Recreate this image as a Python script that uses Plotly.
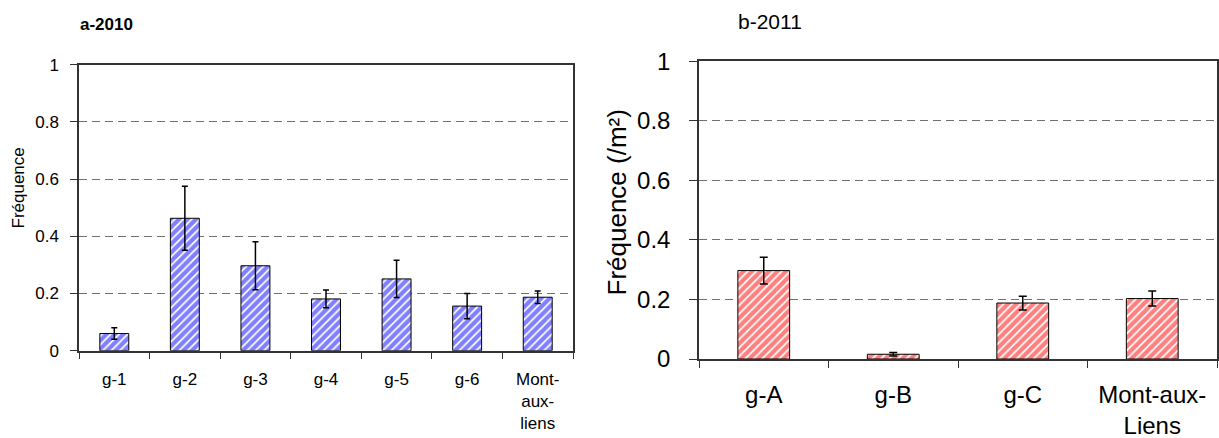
import plotly.graph_objects as go

# ---- data ----
cats_2010 = ["g-1", "g-2", "g-3", "g-4", "g-5", "g-6", "Mont-<br>aux-<br>liens"]
freq_2010 = [0.06, 0.463, 0.297, 0.181, 0.251, 0.156, 0.187]
err_2010 = [0.02, 0.112, 0.084, 0.031, 0.065, 0.044, 0.022]

cats_2011 = ["g-A", "g-B", "g-C", "Mont-aux-<br>Liens"]
freq_2011 = [0.297, 0.016, 0.188, 0.203]
err_2011 = [0.045, 0.006, 0.023, 0.025]

y_ticks = [0, 0.2, 0.4, 0.6, 0.8, 1]
y_ticktext = ["0", "0.2", "0.4", "0.6", "0.8", "1"]

W, H = 1219, 438
FONT = "Liberation Sans, Arial, sans-serif"

fig = go.Figure()

fig.add_trace(go.Bar(
    x=cats_2010, y=freq_2010, width=0.41,
    marker=dict(color="white",
                line=dict(color="black", width=1),
                pattern=dict(shape="/", fgcolor="#0000ff", bgcolor="white",
                             size=6, solidity=0.7)),
    error_y=dict(type="data", array=err_2010, color="black", thickness=1.5, width=3),
    xaxis="x", yaxis="y", showlegend=False,
))
fig.add_trace(go.Bar(
    x=cats_2011, y=freq_2011, width=0.40,
    marker=dict(color="white",
                line=dict(color="black", width=1),
                pattern=dict(shape="/", fgcolor="#ff0000", bgcolor="white",
                             size=6, solidity=0.7)),
    error_y=dict(type="data", array=err_2011, color="black", thickness=1.5, width=4),
    xaxis="x2", yaxis="y2", showlegend=False,
))

def xa(domain, anchor, size, standoff):
    return dict(domain=domain, anchor=anchor,
                showline=True, linecolor="#333", linewidth=1.5, mirror=True,
                ticks="outside", tickson="boundaries", ticklen=7, tickcolor="#333",
                tickwidth=1.2, showgrid=False, tickfont=dict(size=size, color="black", family=FONT),
                ticklabelstandoff=standoff, automargin=False, fixedrange=True)

def ya(domain, anchor, size, standoff, ticklen):
    return dict(domain=domain, anchor=anchor, range=[0, 1], tickvals=y_ticks, ticktext=y_ticktext,
                showline=True, linecolor="#333", linewidth=1.5, mirror=True,
                ticks="outside", ticklen=ticklen, tickcolor="#333", tickwidth=1.2,
                showgrid=True, gridcolor="#707070", gridwidth=1, griddash="8px,5px",
                zeroline=False, tickfont=dict(size=size, color="black", family=FONT),
                ticklabelstandoff=standoff, automargin=False, fixedrange=True)

fig.update_layout(
    width=W, height=H,
    margin=dict(l=0, r=0, t=0, b=0),
    paper_bgcolor="white", plot_bgcolor="white",
    font=dict(family=FONT, color="black"),
    xaxis=xa([79 / W, 573 / W], "y", 17, 12),
    yaxis=ya([1 - 350.7 / H, 1 - 64.7 / H], "x", 17, 8, 7),
    xaxis2=xa([699 / W, 1217 / W], "y2", 24, 13),
    yaxis2=ya([1 - 359 / H, 1 - 61.3 / H], "x2", 24, 14, 8),
    annotations=[
        dict(text="<b>a-2010</b>", x=77.6 / W, y=1 - 25 / H, xref="paper", yref="paper",
             xanchor="left", yanchor="middle", showarrow=False,
             font=dict(size=17, family=FONT, color="black")),
        dict(text="b-2011", x=736 / W, y=1 - 21.7 / H, xref="paper", yref="paper",
             xanchor="left", yanchor="middle", showarrow=False,
             font=dict(size=21, family=FONT, color="black")),
        dict(text="Fréquence", x=17.5 / W, y=1 - 188 / H, xref="paper", yref="paper",
             xanchor="center", yanchor="middle", textangle=-90, showarrow=False,
             font=dict(size=17, family=FONT, color="black")),
        dict(text="Fréquence (/m²)", x=617 / W, y=1 - 202.5 / H, xref="paper", yref="paper",
             xanchor="center", yanchor="middle", textangle=-90, showarrow=False,
             font=dict(size=26, family=FONT, color="black")),
    ],
)

fig.write_html("out.html", config={"displayModeBar": False},
               post_script="document.body.style.margin='0';")
